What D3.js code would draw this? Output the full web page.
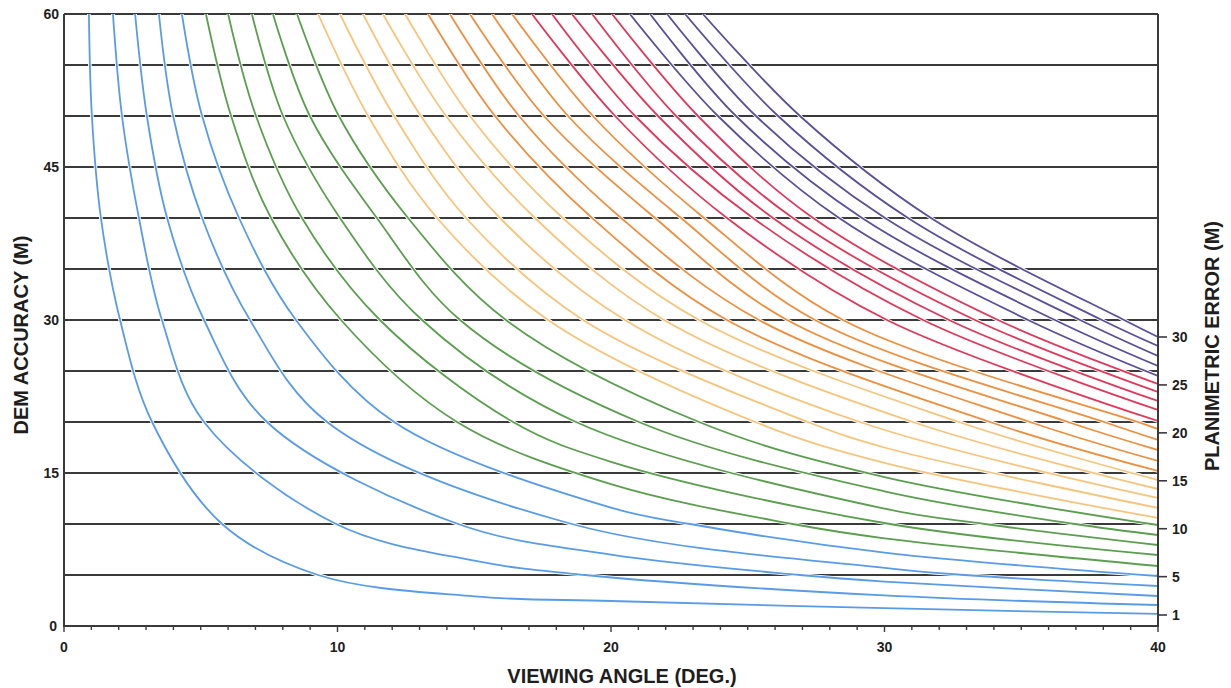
<!DOCTYPE html>
<html>
<head>
<meta charset="utf-8">
<title>DEM accuracy vs viewing angle</title>
<script src="https://cdn.jsdelivr.net/npm/d3@7"></script>
<style>
  body { margin: 0; background: #fff; }
  text { font-family: "Liberation Sans", Arial, sans-serif; font-weight: bold; fill: #1e1e1e; }
</style>
</head>
<body>
<script>
// planimetric error (m) of each curve
const planimetricError = [1,2,3,4,5,6,7,8,9,10,11,12,13,14,15,16,17,18,19,20,21,22,23,24,25,26,27,28,29,30]
const groupColors = ['#5a9be8', '#5c9e50', '#f7c47c', '#ee8f3f', '#e0385a', '#5b4f98']

// viewing angle (deg) where each curve crosses a DEM accuracy gridline
const angleAt60 = [0.91,1.79,2.60,3.47,4.31,5.19,6.00,6.87,7.64,8.52,9.29,10.09,10.93,11.66,12.47,13.31,14.11,14.84,15.65,16.38,17.11,17.84,18.57,19.31,20.04,20.69,21.43,22.05,22.71,23.36]
const angleAt50 = [1.02,2.12,3.03,3.99,5.05,6.11,7.02,8.01,8.99,10.05,11.12,12.07,13.05,13.97,14.84,15.76,16.64,17.55,18.43,19.34,20.15,20.88,21.72,22.38,23.18,23.91,24.57,25.30,26.11,26.91]
const angleAt40 = [1.35,2.74,3.77,5.05,6.40,7.57,8.70,10.09,11.44,12.58,13.64,14.70,15.94,17.22,18.24,19.31,20.37,21.61,22.56,23.40,24.24,25.19,25.92,26.65,27.39,28.34,29.18,30.02,30.86,31.70]
const angleAt30 = [2.05,3.58,5.12,6.80,8.48,10.13,11.55,13.09,14.48,16.16,17.70,18.98,20.51,21.94,23.22,24.24,25.41,26.44,27.46,28.48,30.09,31.41,32.36,33.31,34.15,35.25,36.23,37.15,37.95,38.76]
const angleAt20 = [3.22,5.12,7.42,9.62,12.07,14.37,16.42,18.72,21.02,23.22,25.27,27.20,29.10,31.04,32.72,33.86,35.32,36.71,38.03,39.27,null,null,null,null,null,null,null,null,null,null]
const angleAt10 = [5.78,9.95,14.41,18.57,22.89,26.65,30.20,33.67,36.97,null,null,null,null,null,null,null,null,null,null,null,null,null,null,null,null,null,null,null,null,null]
const angleAt5 = [9.29,19.05,26.91,32.94,null,null,null,null,null,null,null,null,null,null,null,null,null,null,null,null,null,null,null,null,null,null,null,null,null,null]

// DEM accuracy (m) of each curve at fixed viewing angles
const accuracyAt15deg = [2.9,6.4,null,null,null,null,null,null,null,null,null,null,null,null,null,null,null,null,null,null,null,null,null,null,null,null,null,null,null,null]
const accuracyAt20deg = [2.45,null,7.0,null,11.6,13.9,16.1,null,null,null,null,null,null,null,null,null,null,null,null,null,null,null,null,null,null,null,null,null,null,null]
const accuracyAt30deg = [1.75,3.0,4.35,5.7,7.2,8.6,null,11.5,13.2,14.6,16.0,17.5,null,null,null,null,null,null,null,null,null,null,null,null,null,null,null,null,null,null]
const accuracyAt40deg = [1.18,2.06,2.94,3.92,4.90,5.88,6.96,7.94,8.92,9.90,10.59,11.57,12.55,13.43,14.31,15.20,16.18,17.25,18.24,19.31,20.10,21.18,22.06,22.94,23.73,24.51,25.49,26.47,27.45,28.33]

// axis labels
const accuracyTicks = [0, 15, 30, 45, 60]
const gridValues = [5,10,15,20,25,30,35,40,45,50,55,60]
const angleLabels = [0, 10, 20, 30, 40]
const errorTicks = [1, 5, 10, 15, 20, 25, 30]

const width = 1231
const height = 688
const plotLeft = 64, plotRight = 1158, plotTop = 14, plotBottom = 626

const svg = d3.select('body').append('svg')
    .attr('width', width)
    .attr('height', height)

const x = d3.scaleLinear().domain([0, 40]).range([plotLeft, plotRight])
const y = d3.scaleLinear().domain([0, 60]).range([plotBottom, plotTop])
// right axis: planimetric error at the curve ends
const yErr = d3.scaleLinear().domain([1, 30]).range([615, 337])

// gridlines
svg.append('g').selectAll('line').data(gridValues).join('line')
    .attr('x1', plotLeft).attr('x2', plotRight)
    .attr('y1', d => y(d)).attr('y2', d => y(d))
    .attr('stroke', '#3a3a3a').attr('stroke-width', 1.8)

// curves
svg.append('defs').append('clipPath').attr('id', 'plot')
  .append('rect').attr('x', plotLeft).attr('y', plotTop)
  .attr('width', plotRight - plotLeft).attr('height', plotBottom - plotTop)

const curves = planimetricError.map((p, i) => {
  const pts = [
    [angleAt60[i], 60], [angleAt50[i], 50], [angleAt40[i], 40], [angleAt30[i], 30],
    [angleAt20[i], 20], [angleAt10[i], 10], [angleAt5[i], 5],
    [15, accuracyAt15deg[i]], [20, accuracyAt20deg[i]], [30, accuracyAt30deg[i]], [40, accuracyAt40deg[i]]
  ].filter(d => d[0] != null && d[1] != null)
  pts.sort((a, b) => a[0] - b[0])
  return { p, color: groupColors[Math.floor(i / 5)], pts }
})

const line = d3.line()
    .x(d => x(d[0]))
    .y(d => y(d[1]))
    .curve(d3.curveCatmullRom.alpha(0.5))

const plot = svg.append('g').attr('clip-path', 'url(#plot)')
plot.selectAll('path.casing').data(curves).join('path')
    .attr('class', 'casing')
    .attr('d', d => line(d.pts))
    .attr('fill', 'none')
    .attr('stroke', '#fff')
    .attr('stroke-width', 3.6)
plot.selectAll('path.curve').data(curves).join('path')
    .attr('class', 'curve')
    .attr('d', d => line(d.pts))
    .attr('fill', 'none')
    .attr('stroke', d => d.color)
    .attr('stroke-width', 1.8)

// frame
svg.append('path')
    .attr('d', `M${plotLeft},${plotTop}V${plotBottom}H${plotRight}V${plotTop}`)
    .attr('fill', 'none')
    .attr('stroke', '#3a3a3a')
    .attr('stroke-width', 2)

// x ticks every degree
const xTicks = svg.append('g')
xTicks.selectAll('line').data(d3.range(0, 41)).join('line')
    .attr('x1', d => x(d)).attr('x2', d => x(d))
    .attr('y1', plotBottom).attr('y2', d => plotBottom + (d % 10 === 0 ? 6 : 4))
    .attr('stroke', '#3a3a3a').attr('stroke-width', 1.4)
xTicks.selectAll('text').data(angleLabels).join('text')
    .attr('x', d => x(d)).attr('y', 652)
    .attr('text-anchor', 'middle')
    .style('font-size', '14px')
    .text(d => d)

// left labels
svg.append('g').selectAll('text').data(accuracyTicks).join('text')
    .attr('x', d => d === 0 ? 57 : 59).attr('y', d => y(d) + 5)
    .attr('text-anchor', 'end')
    .style('font-size', '14px')
    .text(d => d)

// right axis
const rAxis = svg.append('g')
rAxis.selectAll('line').data(errorTicks).join('line')
    .attr('x1', plotRight).attr('x2', plotRight + 9)
    .attr('y1', d => yErr(d)).attr('y2', d => yErr(d))
    .attr('stroke', '#3a3a3a').attr('stroke-width', 1.6)
rAxis.selectAll('text').data(errorTicks).join('text')
    .attr('x', 1172).attr('y', d => yErr(d) + 5)
    .style('font-size', '14px')
    .text(d => d)

// titles
svg.append('text')
    .attr('x', 622).attr('y', 683)
    .attr('text-anchor', 'middle')
    .style('font-size', '20px')
    .text('VIEWING ANGLE (DEG.)')
svg.append('text')
    .attr('transform', 'translate(28,335) rotate(-90)')
    .attr('text-anchor', 'middle')
    .style('font-size', '20px')
    .text('DEM ACCURACY (M)')
svg.append('text')
    .attr('transform', 'translate(1219,346) rotate(-90)')
    .attr('text-anchor', 'middle')
    .style('font-size', '20px')
    .text('PLANIMETRIC ERROR (M)')
</script>
</body>
</html>
